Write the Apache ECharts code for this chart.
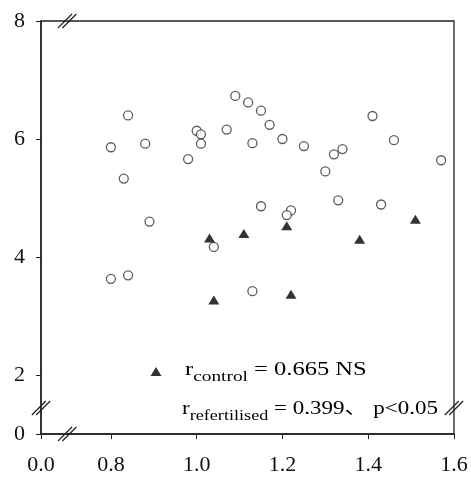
<!DOCTYPE html>
<html>
<head>
<meta charset="utf-8">
<script src="https://cdn.jsdelivr.net/npm/echarts@6/dist/echarts.min.js"></script>
<style>
	html, body { margin: 0; padding: 0; background: #fff; }
	#main { width: 471px; height: 477px; }
</style>
</head>
<body>
<div id="main"></div>
<script>
// refertilised (open circles)
var refX = [1.09, 1.12, 1.15, 0.84, 1.17, 1.00, 1.01, 1.07, 1.20, 0.80, 0.88, 1.01, 1.13, 0.98, 0.83, 1.15,
	1.22, 1.21, 0.89, 1.04, 0.80, 0.84, 1.13, 1.41, 1.25, 1.34, 1.32, 1.46, 1.57, 1.30, 1.33, 1.43];
var refY = [6.73, 6.62, 6.48, 6.40, 6.24, 6.14, 6.08, 6.16, 6.00, 5.86, 5.92, 5.92, 5.93, 5.66, 5.33, 4.86,
	4.79, 4.71, 4.60, 4.17, 3.63, 3.69, 3.42, 6.39, 5.88, 5.83, 5.74, 5.98, 5.64, 5.45, 4.96, 4.89];
// control (filled triangles)
var ctlX = [1.03, 1.11, 1.21, 1.51, 1.38, 1.04, 1.22];
var ctlY = [4.32, 4.40, 4.53, 4.64, 4.30, 3.27, 3.37];

// broken axes: 0.0 is drawn where 0.637 would be, 0 where 1 would be
var xTickValues = [0.637, 0.8, 1.0, 1.2, 1.4, 1.6];
var xTickLabels = ['0.0', '0.8', '1.0', '1.2', '1.4', '1.6'];
var yTickValues = [1, 2, 4, 6, 8];
var yTickLabels = ['0', '2', '4', '6', '8'];
var xBreakAt = 0.698;
var yBreakAt = 1.44;

var statLines = [
	'{a|r}{s|control}{a| = 0.665 NS}',
	'{a|r}{s|refertilised}{a| = 0.399、 p<0.05}'
];

function pairs(xs, ys) {
	var out = [];
	for (var i = 0; i < xs.length; i++) out.push([xs[i], ys[i]]);
	return out;
}

var font = '"Liberation Serif", "Times New Roman", "Noto Sans CJK SC", serif';
var axisCol = '#222';

var myChart = echarts.init(document.getElementById('main'));
var option = {
	animation: false,
	backgroundColor: '#fff',
	grid: {
		left: 41, right: 17, top: 21, bottom: 43,
		show: true, borderColor: axisCol, borderWidth: 1.3
	},
	xAxis: {
		type: 'value',
		min: 0.637, max: 1.6,
		splitLine: { show: false },
		axisLine: { lineStyle: { color: axisCol, width: 1.5 } },
		axisTick: { customValues: xTickValues, length: 5, lineStyle: { color: axisCol } },
		axisLabel: {
			customValues: xTickValues,
			margin: 20,
			color: '#111', fontFamily: font, fontSize: 22,
			formatter: function (v) {
				var i = xTickValues.indexOf(v);
				return i >= 0 ? xTickLabels[i] : '';
			}
		}
	},
	yAxis: {
		type: 'value',
		min: 1, max: 8,
		splitLine: { show: false },
		axisLine: { lineStyle: { color: axisCol, width: 1.5 } },
		axisTick: { customValues: yTickValues, length: 5, lineStyle: { color: axisCol } },
		axisLabel: {
			customValues: yTickValues,
			margin: 16,
			color: '#111', fontFamily: font, fontSize: 22,
			formatter: function (v) {
				var i = yTickValues.indexOf(v);
				return i >= 0 ? yTickLabels[i] : '';
			}
		}
	},
	legend: {
		orient: 'vertical',
		left: 145.5, top: 362,
		itemWidth: 11, itemHeight: 9,
		selectedMode: false,
		data: [{ name: 'control', icon: 'triangle' }],
		formatter: function () { return ''; },
		textStyle: { fontSize: 8 }
	},
	series: [{
		name: 'refertilised',
		type: 'scatter',
		data: pairs(refX, refY),
		symbol: 'circle',
		symbolSize: 9,
		itemStyle: { color: '#fff', borderColor: '#333', borderWidth: 1.3 }
	}, {
		name: 'control',
		type: 'scatter',
		data: pairs(ctlX, ctlY),
		symbol: 'triangle',
		symbolSize: [11, 9],
		itemStyle: { color: '#000' }
	}]
};
myChart.setOption(option);

// "//" break marks on the four sides of the frame
function slash(cx, cy) {
	return {
		type: 'group',
		children: [-2.2, 2.2].map(function (o) {
			return {
				type: 'line',
				shape: { x1: cx + o - 7, y1: cy + 7, x2: cx + o + 7, y2: cy - 7 },
				style: { stroke: axisCol, lineWidth: 1.2 }
			};
		})
	};
}
// the printed statistics look stretched sideways, so scale the text
function statText(str, x, y, sx) {
	return {
		type: 'text',
		x: x, y: y, scaleX: sx,
		style: {
			text: str,
			verticalAlign: 'middle',
			rich: {
				a: { fontFamily: font, fontSize: 19, color: '#111' },
				s: { fontFamily: font, fontSize: 15, color: '#111', padding: [14, 0, 0, 0] }
			}
		}
	};
}
var bl = myChart.convertToPixel('grid', [xBreakAt, 1]);
var tl = myChart.convertToPixel('grid', [xBreakAt, 8]);
var lb = myChart.convertToPixel('grid', [0.637, yBreakAt]);
var rb = myChart.convertToPixel('grid', [1.6, yBreakAt]);
myChart.setOption({
	graphic: [
		slash(bl[0], bl[1]), slash(tl[0], tl[1]),
		slash(lb[0], lb[1]), slash(rb[0], rb[1]),
		statText(statLines[0], 185, 370, 1.29),
		statText(statLines[1], 182, 409, 1.21)
	]
});
</script>
</body>
</html>
